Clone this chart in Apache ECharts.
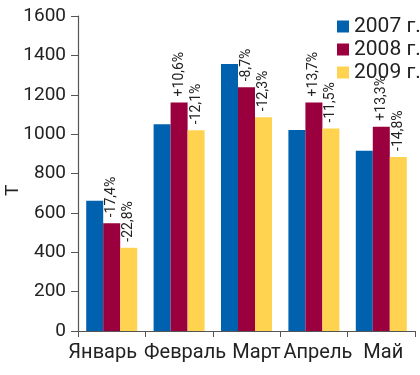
<!DOCTYPE html>
<html>
<head>
<meta charset="utf-8">
<script src="https://cdn.jsdelivr.net/npm/echarts@6/dist/echarts.min.js"></script>
<style>html,body{margin:0;padding:0;background:#fff;}#c{width:420px;height:375px;}</style>
</head>
<body>
<div id="c"></div>
<script>
const categories = ['Январь', 'Февраль', 'Март', 'Апрель', 'Май'];
const seriesNames = ['2007 г.', '2008 г.', '2009 г.'];
const values2007 = [662, 1050, 1356, 1021, 916];
const values2008 = [547, 1161, 1238, 1161, 1038];
const values2009 = [423, 1020, 1086, 1028, 884];
const labels2008 = ['-17,4%', '+10,6%', '-8,7%', '+13,7%', '+13,3%'];
const labels2009 = ['-22,8%', '-12,1%', '-12,3%', '-11,5%', '-14,8%'];
const yTicks = [0, 200, 400, 600, 800, 1000, 1200, 1400, 1600];
const catShift = [-9, 6, 10, 4, 2];

const colors = ['#0062AF', '#99003D', '#FFD34F'];
const font = 'Roboto, "Noto Sans", sans-serif';

function labelSeries(arr) {
  return {
    show: true,
    position: 'top',
    rotate: 90,
    align: 'left',
    verticalAlign: 'middle',
    distance: 6,
    fontSize: 14,
    fontFamily: font,
    color: '#222',
    formatter: p => arr[p.dataIndex]
  };
}

const chart = echarts.init(document.getElementById('c'), null, {renderer: 'canvas'});
chart.setOption({
  animation: false,
  color: colors,
  grid: {left: 78, right: 5, top: 16, bottom: 44, containLabel: false},
  legend: {
    orient: 'vertical',
    left: 332,
    top: 11,
    itemWidth: 12,
    itemHeight: 12,
    itemGap: 2,
    icon: 'rect',
    data: seriesNames,
    textStyle: {fontSize: 21, fontFamily: font, color: '#222', lineHeight: 21, padding: [0,0,0,0]}
  },
  graphic: [{
    type: 'text',
    x: 4, y: 196,
    rotation: Math.PI / 2,
    style: {text: 'Т', fontSize: 19, fontFamily: font, fill: '#222'}
  }],
  xAxis: {
    type: 'category',
    data: categories.map((c, i) => ({
      value: c,
      textStyle: {padding: catShift[i] >= 0 ? [0, 0, 0, 2 * catShift[i]] : [0, -2 * catShift[i], 0, 0]}
    })),
    axisLine: {lineStyle: {color: '#555', width: 1.2}},
    axisTick: {show: true, length: 6, lineStyle: {color: '#555'}},
    axisLabel: {fontSize: 20, fontFamily: font, color: '#222', margin: 12, interval: 0}
  },
  yAxis: {
    type: 'value',
    min: 0, max: 1600, interval: 200,
    splitLine: {show: false},
    axisLine: {show: true, lineStyle: {color: '#555', width: 1.2}},
    axisTick: {show: true, length: 7, lineStyle: {color: '#555'}},
    axisLabel: {fontSize: 19, fontFamily: font, color: '#222', margin: 12,
      formatter: v => yTicks.includes(v) ? String(v) : ''}
  },
  series: [
    {name: seriesNames[0], type: 'bar', data: values2007, barWidth: 17, barGap: '0%'},
    {name: seriesNames[1], type: 'bar', data: values2008, barWidth: 17, barGap: '0%', label: labelSeries(labels2008)},
    {name: seriesNames[2], type: 'bar', data: values2009, barWidth: 17, barGap: '0%', label: labelSeries(labels2009)}
  ]
});
</script>
</body>
</html>
